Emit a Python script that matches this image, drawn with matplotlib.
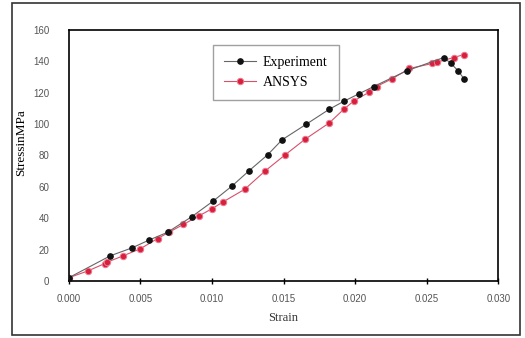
import matplotlib
matplotlib.use("Agg")
import matplotlib.pyplot as plt
from matplotlib.patches import Rectangle

# strain / stress (MPa)
exp_strain = [0.0, 0.0029, 0.0044, 0.0056, 0.0069, 0.0086, 0.0101, 0.0114,
              0.0126, 0.0139, 0.0149, 0.0166, 0.0182, 0.0192, 0.0203, 0.0213,
              0.0236, 0.0262, 0.0267, 0.0272, 0.0276]
exp_stress = [2, 16, 21, 26, 31, 41, 51, 60.5,
              70.3, 80.5, 90, 100, 109.5, 114.5, 119.5, 124,
              134, 142.5, 138.7, 134, 129]

ansys_strain = [0.0, 0.00135, 0.0025, 0.0027, 0.0038, 0.0050, 0.0062, 0.0070,
                0.0080, 0.0091, 0.0100, 0.0108, 0.0123, 0.0137, 0.0151, 0.0165,
                0.0182, 0.0192, 0.0199, 0.0210, 0.0215, 0.0226, 0.0238, 0.0254,
                0.0257, 0.0269, 0.0276]
ansys_stress = [2, 6.4, 11, 12, 16, 20.5, 27, 31,
                36, 41.5, 46, 50.5, 58.5, 70, 80.3, 90.3,
                100.8, 109.4, 114.7, 120.5, 124, 129, 135.5, 138.7,
                139.5, 142.5, 144.4]

x_ticks = [0.000, 0.005, 0.010, 0.015, 0.020, 0.025, 0.030]
y_ticks = [0, 20, 40, 60, 80, 100, 120, 140, 160]

serif = "Liberation Serif"
sans = "Liberation Sans"

fig = plt.figure(figsize=(5.25, 3.38), dpi=100)
ax = fig.add_axes([0.131, 0.169, 0.818, 0.742])

ax.plot(ansys_strain, ansys_stress, color="#d8506a", linewidth=0.8,
        marker="o", markersize=4.6, markerfacecolor="#d8203c",
        markeredgecolor="#ee7890", markeredgewidth=0.7, label="ANSYS",
        zorder=2)
ax.plot(exp_strain, exp_stress, color="#666666", linewidth=0.8,
        marker="o", markersize=3.8, markerfacecolor="#111111",
        markeredgecolor="#111111", label="Experiment", zorder=3)

ax.set_xlim(0, 0.030)
ax.set_ylim(0, 160)
ax.set_xticks(x_ticks)
ax.set_xticklabels([f"{t:.3f}" for t in x_ticks])
ax.set_yticks(y_ticks)

for s in ax.spines.values():
    s.set_linewidth(1.2)
    s.set_color("black")

ax.tick_params(axis="x", direction="inout", length=5, width=1,
               pad=7, labelsize=7, labelcolor="#555555")
ax.tick_params(axis="y", length=0, pad=14, labelsize=7, labelcolor="#555555")
for lbl in ax.get_xticklabels() + ax.get_yticklabels():
    lbl.set_family(sans)

ax.set_xlabel("Strain", family=serif, fontsize=9, color="#333333", labelpad=6)
ax.set_ylabel("StressinMPa", family=serif, fontsize=9.5)
ax.yaxis.set_label_coords(-0.096, 0.55)

handles, labels = ax.get_legend_handles_labels()
leg = ax.legend(handles[::-1], labels[::-1], loc="upper left",
                bbox_to_anchor=(0.335, 0.94), prop={"family": serif, "size": 10},
                frameon=True, fancybox=False, edgecolor="#888888",
                handlelength=2.3, borderpad=0.8, labelspacing=0.5,
                handletextpad=0.5, borderaxespad=0)
leg.get_frame().set_linewidth(1.0)

fig.patches.append(Rectangle((12 / 525, 3 / 338), 508 / 525, 332 / 338,
                             transform=fig.transFigure, fill=False,
                             edgecolor="#333333", linewidth=1.2))

fig.savefig("out.png", dpi=100)
